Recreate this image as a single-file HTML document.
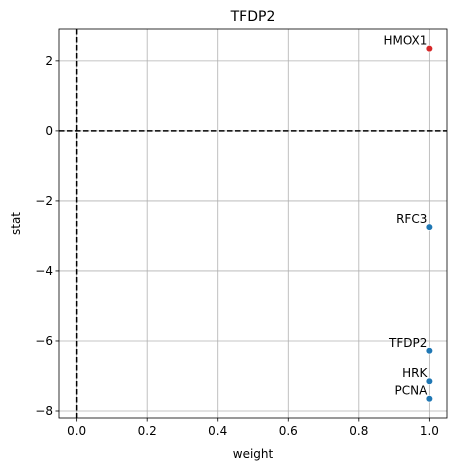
<!DOCTYPE html>
<html><head><meta charset="utf-8"><style>
body{margin:0;background:#fff;font-family:"Liberation Sans","DejaVu Sans",sans-serif;}
text{font-family:"DejaVu Sans","Liberation Sans",sans-serif;}
</style></head><body>
<svg id="chart" width="457" height="470" xmlns="http://www.w3.org/2000/svg"></svg>
<script>
const genes=["HMOX1","RFC3","TFDP2","HRK","PCNA"];
const weights=[1.0,1.0,1.0,1.0,1.0];
const stats=[2.35,-2.75,-6.28,-7.15,-7.65];
const colors=["#d62728","#1f77b4","#1f77b4","#1f77b4","#1f77b4"];
const xTicks=[0.0,0.2,0.4,0.6,0.8,1.0];
const yTicks=[2,0,-2,-4,-6,-8];
const L=59,R=447,T=29,B=418;
const xMin=-0.05,xMax=1.05,yMin=-8.2,yMax=2.91;
const sx=v=>L+(v-xMin)/(xMax-xMin)*(R-L);
const sy=v=>B-(v-yMin)/(yMax-yMin)*(B-T);
const svg=document.getElementById('chart');
const NS="http://www.w3.org/2000/svg";
function mk(t,a,p){const e=document.createElementNS(NS,t);for(const k in a)e.setAttribute(k,a[k]);(p||svg).appendChild(e);return e;}
let e;
xTicks.forEach(v=>{const x=sx(v);
e=mk('line',{x1:x,x2:x,y1:T,y2:B,stroke:'#b0b0b0','stroke-width':0.8});

e=mk('line',{x1:x,x2:x,y1:B,y2:B+3.5,stroke:'#000','stroke-width':0.8});

e=mk('text',{x:x,y:B+17,'text-anchor':'middle','font-size':12,fill:'#000'});e.textContent=v.toFixed(1);
});
yTicks.forEach(v=>{const y=sy(v);
e=mk('line',{x1:L,x2:R,y1:y,y2:y,stroke:'#b0b0b0','stroke-width':0.8});

e=mk('line',{x1:L-3.5,x2:L,y1:y,y2:y,stroke:'#000','stroke-width':0.8});

e=mk('text',{x:L-6,y:y+4,'text-anchor':'end','font-size':12,fill:'#000'});e.textContent=(v<0?'\u2212'+(-v):''+v);
});
e=mk('line',{x1:sx(0),x2:sx(0),y1:T,y2:B,stroke:'#000','stroke-width':1.5,'stroke-dasharray':'5.5,2.5'});

e=mk('line',{x1:L,x2:R,y1:sy(0),y2:sy(0),stroke:'#000','stroke-width':1.5,'stroke-dasharray':'5.5,2.5'});

genes.forEach((g,i)=>{const x=sx(weights[i]),y=sy(stats[i]);
e=mk('circle',{cx:x,cy:y,r:3.3,fill:colors[i],stroke:'#fff','stroke-width':0.6});

e=mk('text',{x:x-2,y:y-4,'text-anchor':'end','font-size':12,fill:'#000'});e.textContent=g;
});
e=mk('rect',{x:L,y:T,width:R-L,height:B-T,fill:'none',stroke:'#000','stroke-width':0.8});

e=mk('text',{x:(L+R)/2,y:T-8,'text-anchor':'middle','font-size':14,fill:'#000'});e.textContent='TFDP2';

e=mk('text',{x:(L+R)/2,y:458,'text-anchor':'middle','font-size':12,fill:'#000'});e.textContent='weight';

e=mk('text',{x:20,y:(T+B)/2,'text-anchor':'middle','font-size':12,fill:'#000',transform:`rotate(-90 20 ${(T+B)/2})`});e.textContent='stat';

</script>
</body></html>
